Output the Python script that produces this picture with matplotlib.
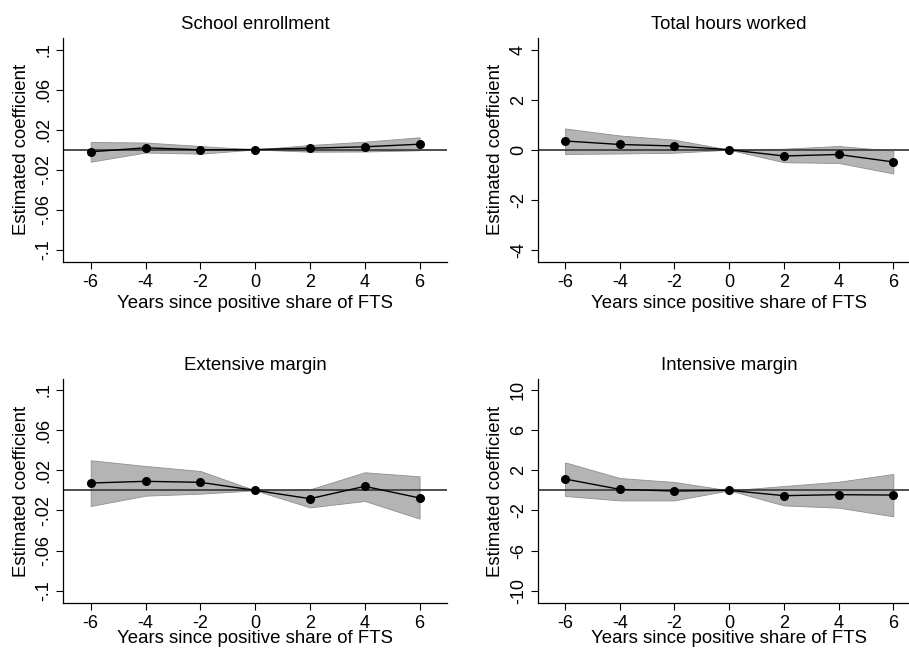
import matplotlib
matplotlib.use('Agg')
import matplotlib.pyplot as plt

plt.rcParams['font.family'] = ['Liberation Sans', 'DejaVu Sans']

years = [-6, -4, -2, 0, 2, 4, 6]

school_coef = [-0.0023, 0.0017, -0.0003, 0.0, 0.0013, 0.0027, 0.0053]
school_hi = [0.0075, 0.0070, 0.0035, 0.0, 0.0045, 0.0078, 0.0122]
school_lo = [-0.0122, -0.0030, -0.0042, 0.0, -0.0022, -0.0020, -0.0008]

hours_coef = [0.35, 0.21, 0.15, 0.0, -0.25, -0.19, -0.49]
hours_hi = [0.85, 0.57, 0.40, 0.0, 0.04, 0.15, -0.04]
hours_lo = [-0.17, -0.15, -0.12, 0.0, -0.50, -0.53, -0.95]

ext_coef = [0.0073, 0.0090, 0.0080, 0.0, -0.0083, 0.0040, -0.0076]
ext_hi = [0.0300, 0.0243, 0.0193, 0.0, 0.0010, 0.0180, 0.0140]
ext_lo = [-0.0156, -0.0053, -0.0033, 0.0, -0.0170, -0.0106, -0.0282]

int_coef = [1.13, 0.10, -0.07, 0.0, -0.53, -0.43, -0.47]
int_hi = [2.79, 1.23, 0.83, 0.0, 0.43, 0.86, 1.63]
int_lo = [-0.56, -1.00, -1.00, 0.0, -1.50, -1.73, -2.59]

titles = ['School enrollment', 'Total hours worked', 'Extensive margin', 'Intensive margin']

frac_ticks = [-0.1, -0.06, -0.02, 0.02, 0.06, 0.1]
frac_labels = ['-.1', '-.06', '-.02', '.02', '.06', '.1']
hours_ticks = [-4, -2, 0, 2, 4]
hours_labels = ['-4', '-2', '0', '2', '4']
int_ticks = [-10, -6, -2, 2, 6, 10]
int_labels = ['-10', '-6', '-2', '2', '6', '10']

xticks = [-6, -4, -2, 0, 2, 4, 6]
xlabels = ['-6', '-4', '-2', '0', '2', '4', '6']

W, H = 909, 648
fig = plt.figure(figsize=(W / 100, H / 100), dpi=100)


def add_axes(l, r, t, b):
    return fig.add_axes([l / W, 1 - b / H, (r - l) / W, (b - t) / H])


panels = [
    (add_axes(63.3, 447.0, 38.0, 261.7), school_coef, school_lo, school_hi, titles[0],
     (-0.1122, 0.1115), frac_ticks, frac_labels, 3),
    (add_axes(537.7, 920.7, 38.0, 261.7), hours_coef, hours_lo, hours_hi, titles[1],
     (-4.48, 4.47), hours_ticks, hours_labels, 3),
    (add_axes(63.3, 447.0, 379.3, 602.7), ext_coef, ext_lo, ext_hi, titles[2],
     (-0.112, 0.1107), frac_ticks, frac_labels, -1.2),
    (add_axes(537.7, 920.7, 379.3, 602.7), int_coef, int_lo, int_hi, titles[3],
     (-11.2, 11.07), int_ticks, int_labels, -1.2),
]

for ax, coef, lo, hi, title, ylim, yt, ytl, xlpad in panels:
    ax.fill_between(years, lo, hi, facecolor='#b4b4b4', edgecolor='#8f8f8f',
                    linewidth=0.6, zorder=1)
    ax.axhline(0, color='#404040', linewidth=1.3, zorder=2)
    ax.plot(years, coef, '-', color='black', linewidth=1.0, zorder=3)
    ax.plot(years, coef, 'o', color='black', markersize=5.5, zorder=4)
    ax.set_xlim(-7, 7)
    ax.set_ylim(*ylim)
    ax.set_xticks(xticks)
    ax.set_xticklabels(xlabels)
    ax.set_yticks(yt)
    ax.set_yticklabels(ytl, rotation=90, va='center')
    for s in ['top', 'right']:
        ax.spines[s].set_visible(False)
    for s in ['left', 'bottom']:
        ax.spines[s].set_linewidth(0.9)
    ax.tick_params(direction='out', length=4.8, width=0.8, labelsize=13, pad=3)
    ax.tick_params(axis='x', pad=4)
    ax.set_title(title, fontsize=13.4, pad=6.5)
    ax.set_xlabel('Years since positive share of FTS', fontsize=13.4, labelpad=xlpad)
    ax.set_ylabel('Estimated coefficient', fontsize=13.4, labelpad=4)
    ax.set_facecolor('white')

fig.savefig('out.png', dpi=100)
